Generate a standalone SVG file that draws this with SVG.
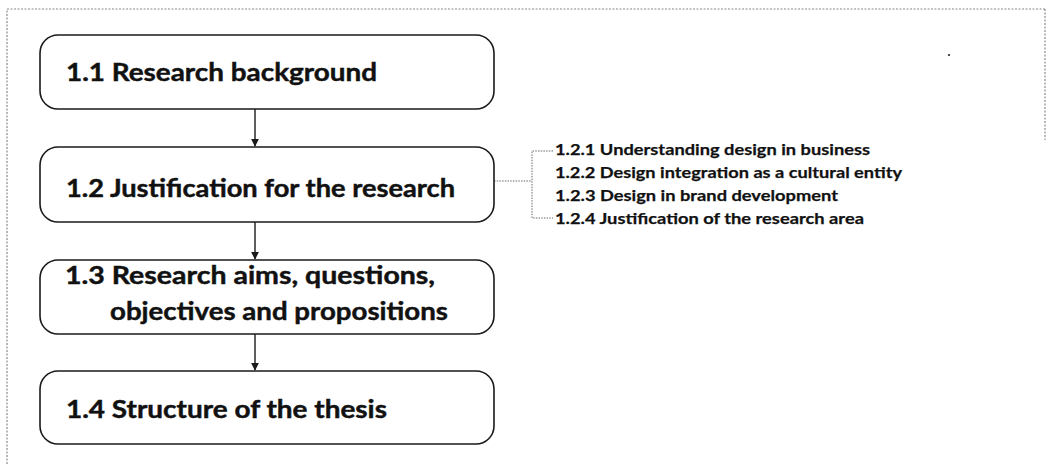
<svg xmlns="http://www.w3.org/2000/svg" width="1046" height="464" viewBox="0 0 1046 464">
  <style>
    .frame { fill: none; stroke: #8a8a8a; stroke-width: 1.2; stroke-dasharray: 2 1.5; }
    .box { fill: #ffffff; stroke: #1a1a1a; stroke-width: 1.6; }
    .title { font-family: Lato, "Open Sans", "Liberation Sans", sans-serif; font-weight: 700; font-size: 25px; fill: #111111; stroke: #111111; stroke-width: 0.45; }
    .sub { font-family: Lato, "Open Sans", "Liberation Sans", sans-serif; font-weight: 700; font-size: 16px; fill: #111111; stroke: #111111; stroke-width: 0.25; }
    .flow { fill: none; stroke: #1a1a1a; stroke-width: 1.4; }
    .bracket { fill: none; stroke: #6a6a6a; stroke-width: 1; stroke-dasharray: 1.5 1.2; }
  </style>
  <defs>
    <marker id="arrow" viewBox="0 0 10 10" refX="9" refY="5" markerWidth="8" markerHeight="8" markerUnits="userSpaceOnUse" orient="auto">
      <path d="M0,0 L10,5 L0,10 z" fill="#1a1a1a"/>
    </marker>
  </defs>

  <rect width="1046" height="464" fill="#ffffff"/>

  <!-- page frame -->
  <g id="frame">
    <path class="frame" d="M7,464 V9 H1046"/>
    <path class="frame" d="M1045,9 V140"/>
    <circle cx="949" cy="55" r="1.1" fill="#222222"/>
  </g>

  <!-- connectors -->
  <g id="connectors">
    <line class="flow" x1="255" y1="109" x2="255" y2="146" marker-end="url(#arrow)"/>
    <line class="flow" x1="255" y1="222" x2="255" y2="259" marker-end="url(#arrow)"/>
    <line class="flow" x1="255" y1="334" x2="255" y2="370" marker-end="url(#arrow)"/>
    <path class="bracket" d="M494,181 H532"/>
    <path class="bracket" d="M553,151 H532 V218 H553"/>
  </g>

  <g id="node-1-1">
    <rect class="box" x="40" y="35" width="454" height="74" rx="18"/>
    <text class="title" x="66" y="81" textLength="311" lengthAdjust="spacingAndGlyphs">1.1 Research background</text>
  </g>

  <g id="node-1-2">
    <rect class="box" x="40" y="147" width="454" height="75" rx="18"/>
    <text class="title" x="66" y="197" textLength="389" lengthAdjust="spacingAndGlyphs">1.2 Justification for the research</text>
  </g>

  <g id="node-1-3">
    <rect class="box" x="40" y="260" width="454" height="74" rx="18"/>
    <text class="title" x="65" y="284" textLength="370" lengthAdjust="spacingAndGlyphs">1.3 Research aims, questions,</text>
    <text class="title" x="110" y="320" textLength="338" lengthAdjust="spacingAndGlyphs">objectives and propositions</text>
  </g>

  <g id="node-1-4">
    <rect class="box" x="40" y="371" width="454" height="73" rx="18"/>
    <text class="title" x="66" y="418" textLength="321" lengthAdjust="spacingAndGlyphs">1.4 Structure of the thesis</text>
  </g>

  <g id="subsections-1-2">
    <text class="sub" x="555" y="155" textLength="315" lengthAdjust="spacingAndGlyphs">1.2.1 Understanding design in business</text>
    <text class="sub" x="555" y="178" textLength="347" lengthAdjust="spacingAndGlyphs">1.2.2 Design integration as a cultural entity</text>
    <text class="sub" x="555" y="201" textLength="283" lengthAdjust="spacingAndGlyphs">1.2.3 Design in brand development</text>
    <text class="sub" x="555" y="224" textLength="309" lengthAdjust="spacingAndGlyphs">1.2.4 Justification of the research area</text>
  </g>
</svg>
